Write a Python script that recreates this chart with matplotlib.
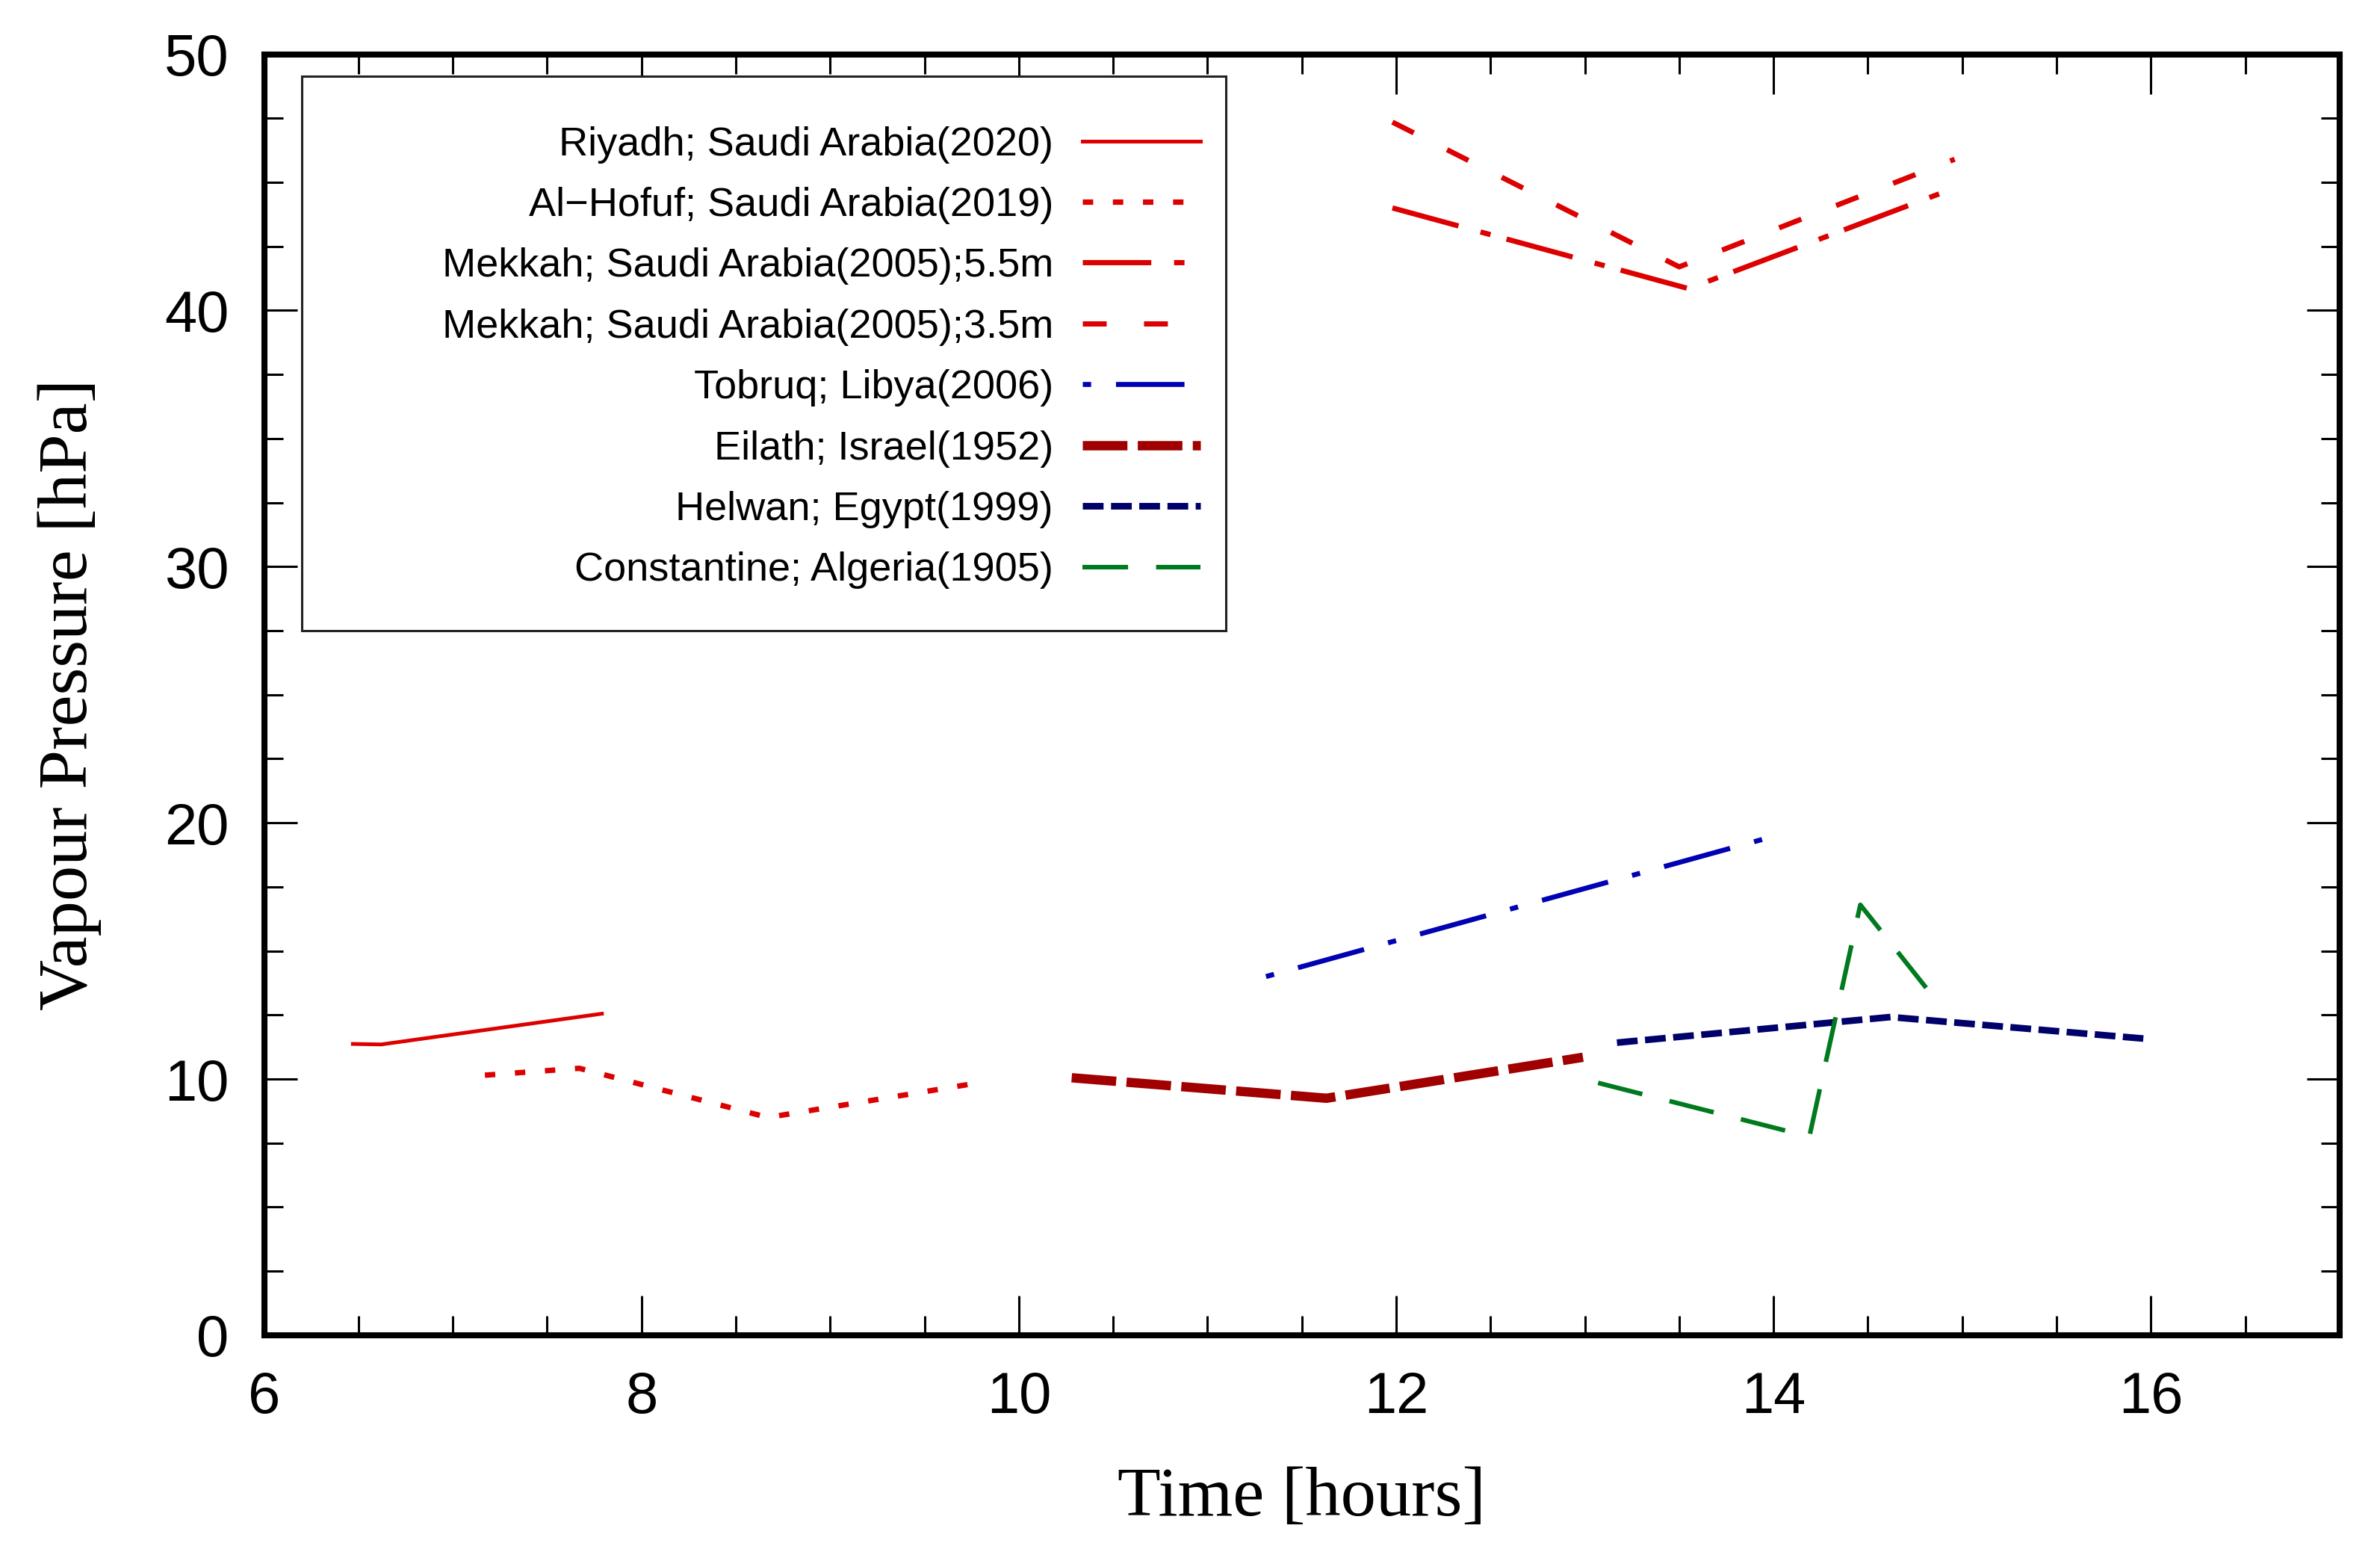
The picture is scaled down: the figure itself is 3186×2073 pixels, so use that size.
import numpy as np
import matplotlib
matplotlib.use('Agg')
import matplotlib.pyplot as plt
from matplotlib.patches import Rectangle
from matplotlib.ticker import MultipleLocator

#Data
riyadh_t = [6.47, 6.62, 7.79]
riyadh_vp = [11.37, 11.35, 12.55]
hofuf_t = [7.17, 7.67, 8.67, 9.80]
hofuf_vp = [10.15, 10.42, 8.50, 9.87]
mekkah55_t = [11.98, 13.55, 14.95]
mekkah55_vp = [44.0, 40.85, 44.75]
mekkah35_t = [11.98, 13.50, 14.96]
mekkah35_vp = [47.35, 41.7, 45.9]
tobruq_t = [11.31, 13.94]
tobruq_vp = [14.0, 19.35]
eilath_t = [10.28, 11.63, 12.99]
eilath_vp = [10.05, 9.25, 10.85]
helwan_t = [13.17, 14.62, 15.96]
helwan_vp = [11.42, 12.42, 11.58]
constantine_t = [13.07, 14.19, 14.46, 14.88]
constantine_vp = [9.85, 7.75, 16.8, 12.9]

labels = ['Riyadh; Saudi Arabia(2020)', 'Al\u2212Hofuf; Saudi Arabia(2019)',
          'Mekkah; Saudi Arabia(2005);5.5m', 'Mekkah; Saudi Arabia(2005);3.5m',
          'Tobruq; Libya(2006)', 'Eilath; Israel(1952)',
          'Helwan; Egypt(1999)', 'Constantine; Algeria(1905)']

plt.rcParams['lines.scale_dashes'] = False
plt.rcParams['font.family'] = ['Liberation Sans', 'DejaVu Sans']

fig = plt.figure(figsize=(15.93, 10.365), dpi=200)
ax = fig.add_axes([0.111, 0.138, 0.872, 0.827])

red = '#DD0000'
ax.plot(riyadh_t, riyadh_vp, color=red, lw=1.8, label=labels[0])
ax.plot(hofuf_t, hofuf_vp, color=red, lw=2.6, dashes=(5, 9.5), label=labels[1])
ax.plot(mekkah55_t, mekkah55_vp, color=red, lw=2.5, dashes=(33, 11, 5, 8), label=labels[2])
ax.plot(mekkah35_t, mekkah35_vp, color=red, lw=2.5, dashes=(11.5, 18), label=labels[3])
ax.plot(tobruq_t, tobruq_vp, color='#0000B4', lw=2.4, dashes=(4, 12, 33, 12), label=labels[4])
ax.plot(eilath_t, eilath_vp, color='#A00000', lw=4.5, dashes=(21.5, 5), label=labels[5])
ax.plot(helwan_t, helwan_vp, color='#00006A', lw=3.2, dashes=(10, 3.6), label=labels[6])
ax.plot(constantine_t, constantine_vp, color='#007A1E', lw=2.2, dashes=(22, 13.5), label=labels[7])

ax.set_xlim(6, 17)
ax.set_ylim(0, 50)
ax.xaxis.set_major_locator(MultipleLocator(2))
ax.xaxis.set_minor_locator(MultipleLocator(0.5))
ax.yaxis.set_major_locator(MultipleLocator(10))
ax.yaxis.set_minor_locator(MultipleLocator(2.5))

ax.tick_params(which='both', direction='in', top=True, right=True, width=1.1, labelsize=28)
ax.tick_params(axis='x', which='major', length=19, pad=17)
ax.tick_params(axis='x', which='minor', length=9.5)
ax.tick_params(axis='y', which='major', length=16, pad=17)
ax.tick_params(axis='y', which='minor', length=9)
for sp in ax.spines.values():
    sp.set_linewidth(2.9)

ax.set_xlabel('Time [hours]', family='Liberation Serif', fontsize=34, labelpad=20)
ax.set_ylabel('Vapour Pressure [hPa]', family='Liberation Serif', fontsize=34, labelpad=30)

#Legend box drawn by hand, entries right aligned inside it
ax.add_patch(Rectangle((0.018, 0.55), 0.4454, 0.433, transform=ax.transAxes,
                       facecolor='white', edgecolor='#222222', lw=1.1, zorder=4))
leg = ax.legend(loc='upper right', bbox_to_anchor=(0.4512, 0.944), frameon=False,
                markerfirst=False, fontsize=19.5, borderpad=0, borderaxespad=0,
                handlelength=2.92, handletextpad=0.72, labelspacing=0.58)
leg.set_zorder(5)

plt.savefig('out.png', dpi=200)
